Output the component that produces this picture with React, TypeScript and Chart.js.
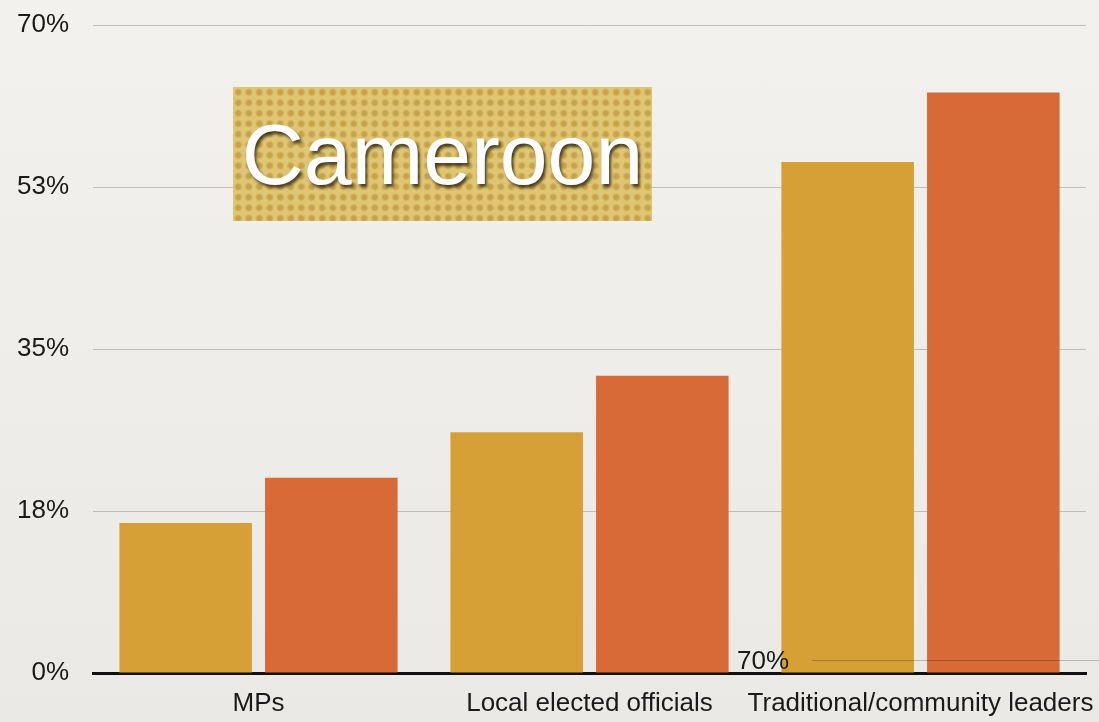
import React, { useEffect, useRef } from 'react';
import { Chart, registerables } from 'chart.js';
Chart.register(...registerables);

const categories = ['MPs', 'Local elected officials', 'Traditional/community leaders'];
const seriesA = [16.2, 26.0, 55.2];
const seriesB = [21.1, 32.1, 62.7];
const yTickValues = [0, 17.5, 35, 52.5, 70];
const yTickLabels = ['0%', '18%', '35%', '53%', '70%'];
const titleText = 'Cameroon';
const strayLabel = '70%';

const FONT = '"Liberation Sans", Arial, Helvetica, sans-serif';

export default function App() {
  const ref = useRef<HTMLCanvasElement | null>(null);
  useEffect(() => {
    document.body.style.margin = '0';
    const ctx = ref.current!;
    const chart = new Chart(ctx, {
      type: 'bar',
      data: {
        labels: categories,
        datasets: [
          { label: 'A', data: seriesA, backgroundColor: 'rgba(213,157,48,0.97)', borderWidth: 0 },
          { label: 'B', data: seriesB, backgroundColor: 'rgba(215,101,49,0.97)', borderWidth: 0 },
        ],
      },
      options: {
        responsive: false,
        animation: false,
        categoryPercentage: 0.88,
        barPercentage: 0.91,
        layout: { padding: { top: 25, right: 13, left: 0, bottom: 0 } },
        plugins: { legend: { display: false }, tooltip: { enabled: false } },
        scales: {
          x: {
            grid: { display: false, drawTicks: false },
            border: { display: true, color: '#111', width: 3 },
            ticks: { color: '#1a1a1a', font: { family: FONT, size: 26 }, padding: 15, maxRotation: 0, autoSkip: false },
            afterFit: (s: any) => {
              s.height = 49;
              s.paddingLeft = 0;
              s.paddingRight = 0;
              s.paddingTop = 0;
              s.paddingBottom = 0;
            },
          },
          y: {
            min: 0,
            max: 70,
            afterBuildTicks: (s: any) => { s.ticks = yTickValues.map((v) => ({ value: v })); },
            grid: { color: 'rgba(0,0,0,0.2)', lineWidth: 1, drawTicks: false },
            border: { display: false },
            ticks: {
              color: '#1a1a1a',
              font: { family: FONT, size: 26 },
              padding: 24,
              callback: (_v: any, i: number) => yTickLabels[i],
            },
            afterFit: (s: any) => {
              s.width = 93;
              s.paddingTop = 0;
              s.paddingBottom = 0;
              s.paddingLeft = 0;
              s.paddingRight = 0;
            },
          },
        },
      },
    });
    return () => chart.destroy();
  }, []);

  return (
    <div
      style={{
        position: 'absolute',
        left: 0,
        top: 0,
        width: 1099,
        height: 722,
        overflow: 'hidden',
        background: 'linear-gradient(180deg, #f3f1ed 0%, #efede9 50%, #ebe9e5 100%)',
      }}
    >
      <canvas ref={ref} width={1099} height={722} style={{ position: 'absolute', left: 0, top: 0 }} />
      <div
        style={{
          position: 'absolute',
          left: 233,
          top: 87,
          width: 419,
          height: 134,
          backgroundColor: '#e0c572',
          backgroundImage: 'radial-gradient(circle, rgba(175,135,45,0.55) 2.2px, rgba(175,135,45,0) 4.2px)',
          backgroundSize: '10.5px 10.5px',
          display: 'flex',
          alignItems: 'center',
          justifyContent: 'center',
          fontFamily: FONT,
          fontSize: 86,
          color: '#ffffff',
          textShadow: '2px 3px 3px rgba(0,0,0,0.65)',
          whiteSpace: 'nowrap',
        }}
      >
        {titleText}
      </div>
      <div
        style={{
          position: 'absolute',
          left: 737,
          top: 646,
          fontFamily: FONT,
          fontSize: 26,
          lineHeight: '28px',
          color: '#1a1a1a',
        }}
      >
        {strayLabel}
      </div>
      <div
        style={{
          position: 'absolute',
          left: 812,
          top: 660,
          width: 287,
          height: 1,
          background: 'rgba(0,0,0,0.22)',
        }}
      />
    </div>
  );
}
